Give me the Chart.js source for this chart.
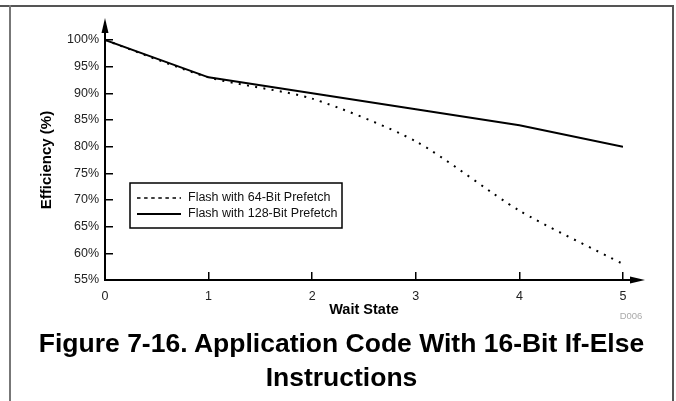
<!DOCTYPE html>
<html>
<head>
<meta charset="utf-8">
<script src="https://cdn.jsdelivr.net/npm/chart.js@4.4.1/dist/chart.umd.min.js"></script>
<style>
    html, body { margin: 0; padding: 0; background: #fff; }
    body { width: 676px; height: 401px; position: relative; overflow: hidden; font-family: "Liberation Sans", Arial, sans-serif; }
    #chart { position: absolute; left: 0; top: 0; }
    .rule { position: absolute; background: #555; }
    #caption {
        position: absolute; left: 10px; top: 326px; width: 663px;
        text-align: center; font-weight: bold; font-size: 26.5px; line-height: 34px; color: #000;
    }
</style>
</head>
<body>
<div class="rule" style="left:0; top:5px; width:674px; height:2px;"></div>
<div class="rule" style="left:9px; top:5px; width:2px; height:396px; background:#777;"></div>
<div class="rule" style="left:672px; top:5px; width:1.5px; height:396px;"></div>
<canvas id="chart" width="676" height="401"></canvas>
<div id="caption">Figure 7-16. Application Code With 16-Bit If-Else<br>Instructions</div>
<script>
const waitStates = [0, 1, 2, 3, 4, 5];
const flash64 = [100, 93, 89, 81, 68, 58];
const flash128 = [100, 93, 90, 87, 84, 80];
const seriesNames = ['Flash with 64-Bit Prefetch', 'Flash with 128-Bit Prefetch'];
const yTicks = [55, 60, 65, 70, 75, 80, 85, 90, 95, 100];

const FONT = '"Liberation Sans", Arial, sans-serif';

function toPoints(values) {
    return waitStates.map((w, i) => ({ x: w, y: values[i] }));
}

// axes with arrows, titles, framed legend and drawing id
const decorPlugin = {
    id: 'decor',
    afterDraw(chart) {
        const ctx = chart.ctx;
        const xs = chart.scales.x;
        const ys = chart.scales.y;
        const x0 = xs.getPixelForValue(0);
        const y0 = ys.getPixelForValue(yTicks[0]);

        ctx.save();
        ctx.strokeStyle = '#000';
        ctx.fillStyle = '#000';
        ctx.lineWidth = 2;

        ctx.beginPath();
        ctx.moveTo(x0, y0);
        ctx.lineTo(x0, 30);
        ctx.moveTo(x0 - 1, y0);
        ctx.lineTo(633, y0);
        ctx.stroke();

        ctx.beginPath();
        ctx.moveTo(x0, 18);
        ctx.lineTo(x0 - 3.5, 33);
        ctx.lineTo(x0 + 3.5, 33);
        ctx.closePath();
        ctx.fill();

        ctx.beginPath();
        ctx.moveTo(645, y0);
        ctx.lineTo(630, y0 - 3.5);
        ctx.lineTo(630, y0 + 3.5);
        ctx.closePath();
        ctx.fill();

        // axis titles
        ctx.font = 'bold 14.5px ' + FONT;
        ctx.textAlign = 'center';
        ctx.textBaseline = 'middle';
        ctx.fillText('Wait State', (xs.left + xs.right) / 2, 310);
        ctx.save();
        ctx.translate(47, (ys.top + ys.bottom) / 2);
        ctx.rotate(-Math.PI / 2);
        ctx.font = 'bold 15px ' + FONT;
        ctx.fillText('Efficiency (%)', 0, 0);
        ctx.restore();

        ctx.font = '9.5px ' + FONT;
        ctx.fillStyle = '#aaa';
        ctx.fillText('D006', 631, 316);

        // legend box
        ctx.fillStyle = '#fff';
        ctx.fillRect(130, 183, 212, 45);
        ctx.lineWidth = 1.5;
        ctx.strokeStyle = '#000';
        ctx.strokeRect(130, 183, 212, 45);

        const rows = [198, 214];
        ctx.lineWidth = 1.5;
        ctx.setLineDash([3.5, 3.6]);
        ctx.beginPath();
        ctx.moveTo(137, rows[0]);
        ctx.lineTo(181, rows[0]);
        ctx.stroke();
        ctx.setLineDash([]);
        ctx.lineWidth = 2;
        ctx.beginPath();
        ctx.moveTo(137, rows[1]);
        ctx.lineTo(181, rows[1]);
        ctx.stroke();

        ctx.fillStyle = '#111';
        ctx.font = '12.5px ' + FONT;
        ctx.textAlign = 'left';
        ctx.fillText(seriesNames[0], 188, rows[0]);
        ctx.fillText(seriesNames[1], 188, rows[1]);
        ctx.restore();
    }
};

new Chart(document.getElementById('chart').getContext('2d'), {
    type: 'line',
    data: {
        datasets: [
            {
                label: seriesNames[0],
                data: toPoints(flash64),
                borderColor: '#000',
                borderWidth: 2,
                borderDash: [2, 6.3],
                tension: 0.25,
                pointRadius: 0,
                fill: false
            },
            {
                label: seriesNames[1],
                data: toPoints(flash128),
                borderColor: '#000',
                borderWidth: 2,
                tension: 0,
                pointRadius: 0,
                fill: false
            }
        ]
    },
    options: {
        responsive: false,
        animation: false,
        layout: { padding: { left: 0, top: 40, right: 53, bottom: 81 } },
        plugins: {
            legend: { display: false },
            tooltip: { enabled: false }
        },
        scales: {
            x: {
                type: 'linear',
                min: 0,
                max: 5,
                afterFit: (s) => { s.height = 40; },
                border: { display: false },
                grid: { drawOnChartArea: false, tickLength: -8, color: '#000', lineWidth: 1.5 },
                ticks: {
                    stepSize: 1,
                    padding: 17,
                    color: '#222',
                    font: { family: FONT, size: 12.5 },
                    maxRotation: 0
                }
            },
            y: {
                min: 55,
                max: 100,
                afterFit: (s) => { s.width = 105; },
                border: { display: false },
                grid: { drawOnChartArea: false, tickLength: -8, color: '#000', lineWidth: 1.5 },
                ticks: {
                    stepSize: 5,
                    padding: 14,
                    color: '#222',
                    font: { family: FONT, size: 12.5 },
                    callback: (v) => v + '%'
                }
            }
        }
    },
    plugins: [decorPlugin]
});
</script>
</body>
</html>
